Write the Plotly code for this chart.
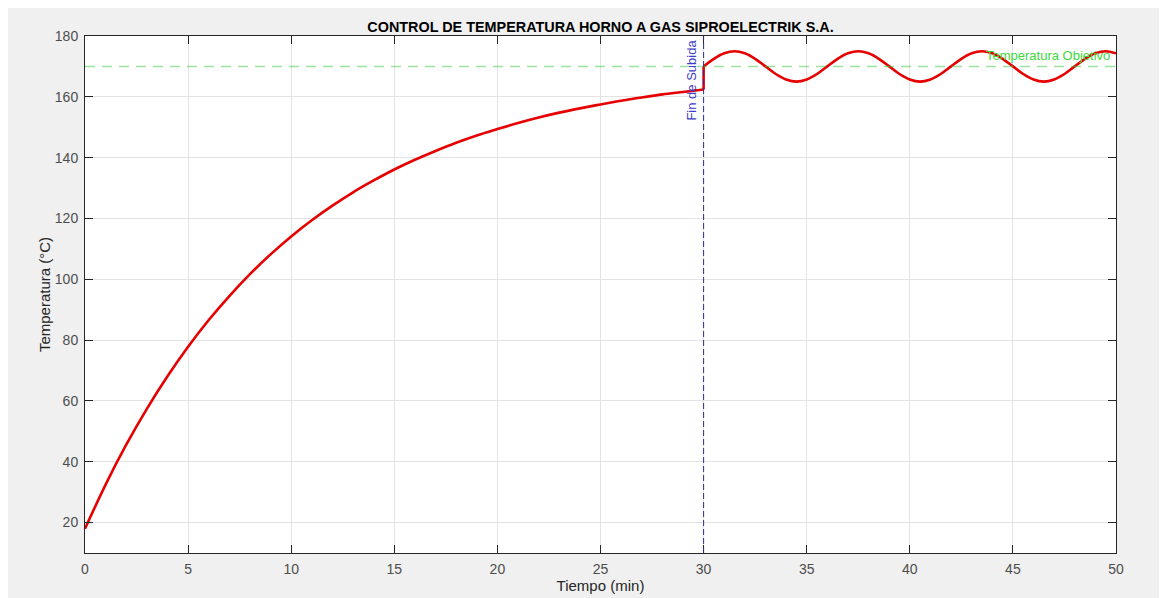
import plotly.graph_objects as go

# Heating phase (read every minute)
t_rise = list(range(0, 31))
temp_rise = [18.0, 32.5, 45.6, 57.4, 68.1, 77.8, 86.6, 94.5, 101.7, 108.2, 114.1,
             119.4, 124.2, 128.6, 132.5, 136.1, 139.3, 142.2, 144.9, 147.3, 149.4,
             151.4, 153.2, 154.8, 156.2, 157.5, 158.7, 159.8, 160.8, 161.6, 162.4]

# Control phase (read every half minute)
t_ctrl = [30 + 0.5 * i for i in range(41)]
temp_ctrl = [170.0, 172.5, 174.3, 175.0, 174.3, 172.5, 170.0, 167.5, 165.7, 165.0, 165.7, 167.5,
             170.0, 172.5, 174.3, 175.0, 174.3, 172.5, 170.0, 167.5, 165.7, 165.0, 165.7, 167.5,
             170.0, 172.5, 174.3, 175.0, 174.3, 172.5, 170.0, 167.5, 165.7, 165.0, 165.7, 167.5,
             170.0, 172.5, 174.3, 175.0, 174.3]

target_temp = 170
end_rise = 30
x_ticks = [0, 5, 10, 15, 20, 25, 30, 35, 40, 45, 50]
y_ticks = [20, 40, 60, 80, 100, 120, 140, 160, 180]

title_text = "CONTROL DE TEMPERATURA HORNO A GAS SIPROELECTRIK S.A."
x_label = "Tiempo (min)"
y_label = "Temperatura (°C)"
target_label = "Temperatura Objetivo"
end_label = "Fin de Subida"

FONT = "Liberation Sans, Arial, Helvetica"
RED = "#e60000"
fig = go.Figure()
fig.add_trace(go.Scatter(x=t_rise, y=temp_rise, mode="lines",
                         line=dict(color=RED, width=2.6, shape="spline"),
                         showlegend=False, hoverinfo="skip"))
fig.add_trace(go.Scatter(x=[t_rise[-1], t_ctrl[0]], y=[temp_rise[-1], temp_ctrl[0]], mode="lines",
                         line=dict(color=RED, width=2.6),
                         showlegend=False, hoverinfo="skip"))
fig.add_trace(go.Scatter(x=t_ctrl, y=temp_ctrl, mode="lines",
                         line=dict(color=RED, width=2.6, shape="spline"),
                         showlegend=False, hoverinfo="skip"))

# the page body adds ~8px offset; figure sized to fit the window
W, H = 1159, 590
ml, mr, mt, mb = 77, 51, 28, 45

shapes = [
    dict(type="line", xref="paper", yref="y", x0=0, x1=1, y0=target_temp, y1=target_temp,
         line=dict(color="rgba(60,200,60,0.5)", width=1.5, dash="10px,7px"), layer="above"),
    dict(type="line", xref="x", yref="paper", x0=end_rise, x1=end_rise, y0=0, y1=1,
         line=dict(color="#2c2c9c", width=1, dash="6px,3px"), layer="above"),
]

annotations = [
    dict(x=50, y=target_temp, xref="x", yref="y", text=target_label, showarrow=False,
         xanchor="right", yanchor="bottom", xshift=-4, yshift=1,
         font=dict(family=FONT, size=13, color="#3cd83c")),
    dict(x=end_rise, y=180, xref="x", yref="y", text=end_label, showarrow=False,
         textangle=-90, xanchor="right", yanchor="top", xshift=-3, yshift=-2,
         font=dict(family=FONT, size=13, color="#3c3cc4")),
]

axis_common = dict(showline=True, linecolor="#262626", linewidth=1, mirror="ticks",
                   ticks="inside", ticklen=8, tickcolor="#262626", tickwidth=1,
                   showgrid=True, gridcolor="#e3e3e3", gridwidth=1, zeroline=False,
                   automargin=False,
                   tickfont=dict(family=FONT, size=14, color="#4d4d4d"))

fig.update_layout(
    width=W, height=H,
    margin=dict(l=ml, r=mr, t=mt, b=mb, pad=0),
    paper_bgcolor="#f0f0f0", plot_bgcolor="white",
    title=dict(text="<b>" + title_text + "</b>", x=0.5, xref="paper", xanchor="center",
               y=1, yref="paper", yanchor="bottom", pad=dict(b=4),
               font=dict(family=FONT, size=14.4, color="#000000")),
    xaxis=dict(range=[0, 50], tickvals=x_ticks, ticktext=[str(v) for v in x_ticks],
               ticklabelstandoff=3,
               title=dict(text=x_label, standoff=3,
                          font=dict(family=FONT, size=15, color="#262626")),
               **axis_common),
    yaxis=dict(range=[10, 180], tickvals=y_ticks, ticktext=[str(v) for v in y_ticks],
               ticklabelstandoff=3,
               title=dict(text=y_label, standoff=0,
                          font=dict(family=FONT, size=15, color="#262626")),
               **axis_common),
    shapes=shapes,
    annotations=annotations,
)

fig.write_html("out.html")
